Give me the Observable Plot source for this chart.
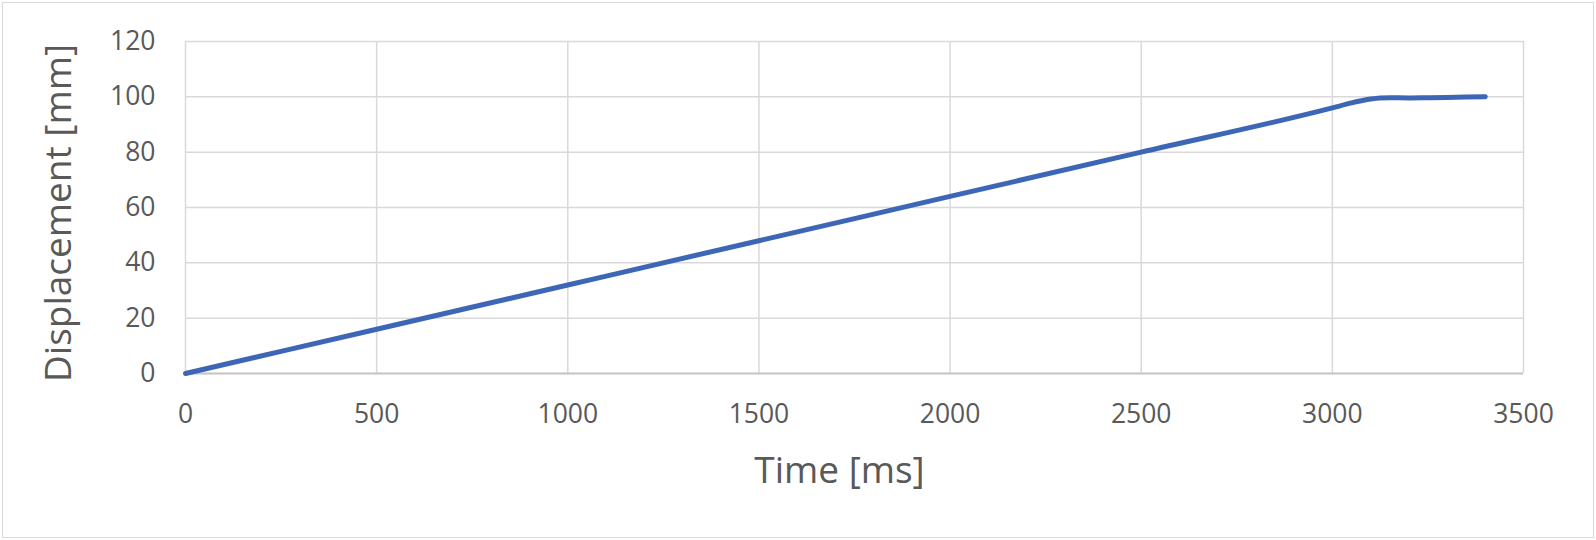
<!DOCTYPE html>
<html>
<head>
<meta charset="utf-8">
<script src="https://cdn.jsdelivr.net/npm/d3@7"></script>
<script src="https://cdn.jsdelivr.net/npm/@observablehq/plot@0.6"></script>
<style>
  html, body { margin: 0; padding: 0; background: #fff; }
  #chart svg { display: block; outline: 1.5px solid #d9d9d9; outline-offset: -3px; }
</style>
</head>
<body>
<div id="chart"></div>
<script>
// Data
const timeMs = [0, 500, 1000, 1500, 2000, 2500, 3000, 3050, 3100, 3125, 3150, 3200, 3250, 3300, 3350, 3400];
const displacementMm = [0, 16, 32, 48, 64, 80, 96, 97.8, 99.2, 99.6, 99.7, 99.6, 99.7, 99.8, 99.9, 100];
const xTicks = [0, 500, 1000, 1500, 2000, 2500, 3000, 3500];
const yTicks = [0, 20, 40, 60, 80, 100, 120];
const xTitle = "Time [ms]";
const yTitle = "Displacement [mm]";

const data = timeMs.map((t, i) => ({t, d: displacementMm[i]}));
const textColor = "#595959";
const font = "'Open Sans', sans-serif";

const chart = Plot.plot({
  width: 1596,
  height: 540,
  marginLeft: 185,
  marginRight: 73,
  marginTop: 41,
  marginBottom: 167,
  style: {fontFamily: font, color: textColor, background: "#fff"},
  x: {domain: [0, 3500], ticks: xTicks},
  y: {domain: [0, 120], ticks: yTicks},
  marks: [
    Plot.gridX(xTicks, {stroke: "#d9d9d9", strokeOpacity: 1, strokeWidth: 1.5}),
    Plot.gridY(yTicks, {stroke: "#d9d9d9", strokeOpacity: 1, strokeWidth: 1.5}),
    Plot.ruleY([0], {stroke: "#c6c6c6", strokeWidth: 2}),
    Plot.axisX(xTicks, {tickSize: 0, tickPadding: 31, fontSize: 26.5, fill: textColor, label: null, tickFormat: d => String(d)}),
    Plot.axisY(yTicks, {tickSize: 0, tickPadding: 30, fontSize: 26.5, fill: textColor, label: null, tickFormat: d => String(d)}),
    Plot.text([xTitle], {frameAnchor: "bottom", textAnchor: "middle", dx: -15, dy: 109, fontSize: 37, fill: textColor}),
    Plot.text([yTitle], {frameAnchor: "left", textAnchor: "middle", rotate: -90, dx: -126, dy: 5.5, fontSize: 37, fill: textColor}),
    Plot.line(data, {x: "t", y: "d", stroke: "#3d66b7", strokeWidth: 5, curve: "monotone-x", strokeLinecap: "round", strokeLinejoin: "round"})
  ]
});
document.getElementById("chart").append(chart);
</script>
</body>
</html>
